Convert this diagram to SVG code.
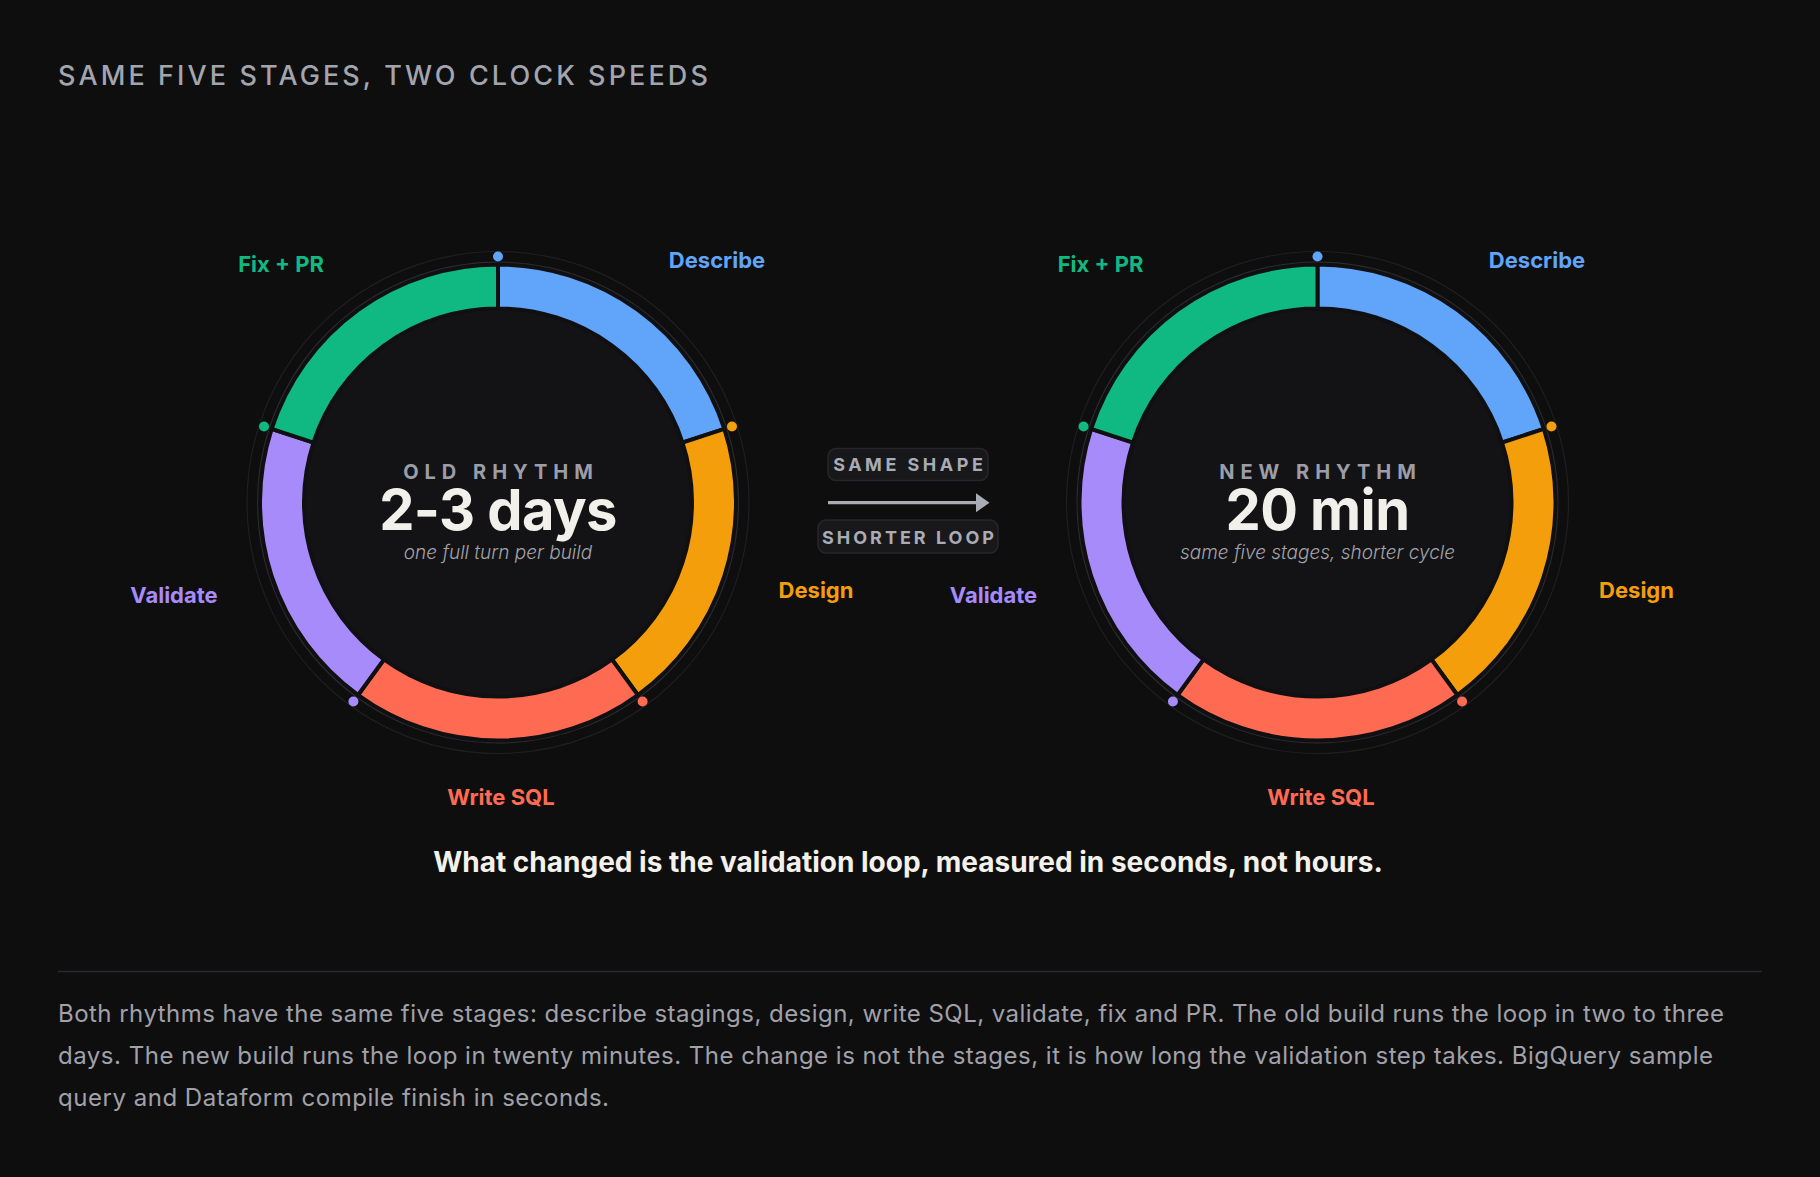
<svg xmlns="http://www.w3.org/2000/svg" xmlns:xlink="http://www.w3.org/1999/xlink" width="1820" height="1177" viewBox="0 0 1820 1177">
<defs>
<style>
.bg{fill:#0e0e0f}
.title{font-family:Inter,"Liberation Sans",sans-serif;font-size:27px;font-weight:500;letter-spacing:3.1px;fill:#a3a5ae}
.lbl{font-family:Inter,"Liberation Sans",sans-serif;font-size:22px;font-weight:700;text-anchor:middle}
.kick{font-family:Inter,"Liberation Sans",sans-serif;font-size:20px;font-weight:700;letter-spacing:6px;fill:#9b9ea8;text-anchor:middle}
.big{font-family:Inter,"Liberation Sans",sans-serif;font-size:56px;font-weight:700;letter-spacing:-0.6px;fill:#f2f0ea;text-anchor:middle}
.sub{font-family:Inter,"Liberation Sans",sans-serif;font-size:19px;font-style:italic;font-weight:300;fill:#a3a3ab;text-anchor:middle}
.pill{fill:#18181a;stroke:#27272b;stroke-width:1.5}
.pilltxt{font-family:Inter,"Liberation Sans",sans-serif;font-size:18px;font-weight:700;fill:#a9abb5;text-anchor:middle}
.head{font-family:Inter,"Liberation Sans",sans-serif;font-size:28px;font-weight:700;fill:#f3f1ea;text-anchor:middle}
.para{font-family:Inter,"Liberation Sans",sans-serif;font-size:24px;font-weight:400;fill:#a1a1a9}
.seg{stroke:#101012;stroke-width:4;stroke-linejoin:miter}
.c-blue{fill:#60a5fa}.c-orange{fill:#f59e0b}.c-red{fill:#ff6b52}.c-purple{fill:#a78bfa}.c-green{fill:#10b981}
</style>
<g id="ringbase">
<circle r="251" fill="none" stroke="#1f1f22" stroke-width="1.2"/>
<circle r="240" fill="#0b0b0c" stroke="#2c2c30" stroke-width="2"/>
<circle r="196" fill="#131315"/>
</g>
<g id="ringsegs">
<path class="seg c-blue" d="M0,-238 A238,238 0 0 1 226.35,-73.55 L184.5,-59.95 A194,194 0 0 0 0,-194 Z"/>
<path class="seg c-orange" d="M226.35,-73.55 A238,238 0 0 1 139.89,192.55 L114.03,156.95 A194,194 0 0 0 184.5,-59.95 Z"/>
<path class="seg c-red" d="M139.89,192.55 A238,238 0 0 1 -139.89,192.55 L-114.03,156.95 A194,194 0 0 0 114.03,156.95 Z"/>
<path class="seg c-purple" d="M-139.89,192.55 A238,238 0 0 1 -226.35,-73.55 L-184.5,-59.95 A194,194 0 0 0 -114.03,156.95 Z"/>
<path class="seg c-green" d="M-226.35,-73.55 A238,238 0 0 1 0,-238 L0,-194 A194,194 0 0 0 -184.5,-59.95 Z"/>
<circle class="c-blue" cx="0" cy="-246" r="5"/>
<circle class="c-orange" cx="233.96" cy="-76.02" r="5"/>
<circle class="c-red" cx="144.6" cy="199.02" r="5"/>
<circle class="c-purple" cx="-144.6" cy="199.02" r="5"/>
<circle class="c-green" cx="-233.96" cy="-76.02" r="5"/>
</g>
</defs>
<rect class="bg" x="0" y="0" width="1820" height="1177"/>
<text class="title" x="58" y="85">SAME FIVE STAGES, TWO CLOCK SPEEDS</text>

<g id="old-rhythm">
<g transform="translate(498,502.5)">
<use xlink:href="#ringbase"/>
<use xlink:href="#ringsegs"/>
</g>
<text class="kick" x="501" y="478.5">OLD RHYTHM</text>
<text class="big" x="498" y="530">2-3 days</text>
<text class="sub" x="498" y="559">one full turn per build</text>
</g>
<g id="old-labels">
<text class="lbl c-green" x="281" y="272">Fix + PR</text>
<text class="lbl c-blue" x="717" y="268">Describe</text>
<text class="lbl c-orange" x="816" y="598">Design</text>
<text class="lbl c-red" x="501" y="805">Write SQL</text>
<text class="lbl c-purple" x="174" y="603">Validate</text>
</g>

<g id="new-rhythm">
<g transform="translate(1317.5,502.5)">
<use xlink:href="#ringbase"/>
<use xlink:href="#ringsegs"/>
</g>
<text class="kick" x="1320.5" y="478.5">NEW RHYTHM</text>
<text class="big" x="1317.5" y="530">20 min</text>
<text class="sub" x="1317.5" y="559">same five stages, shorter cycle</text>
</g>
<g id="new-labels">
<text class="lbl c-green" x="1100.5" y="272">Fix + PR</text>
<text class="lbl c-blue" x="1537" y="268">Describe</text>
<text class="lbl c-orange" x="1636.5" y="598">Design</text>
<text class="lbl c-red" x="1321" y="805">Write SQL</text>
<text class="lbl c-purple" x="993.5" y="603">Validate</text>
</g>

<g id="same-shape">
<rect class="pill" x="828" y="448.5" width="160" height="32" rx="8"/>
<text class="pilltxt" x="909.75" y="471" letter-spacing="3.5">SAME SHAPE</text>
</g>
<g id="connectors">
<line x1="828" y1="502.7" x2="977" y2="502.7" stroke="#a9abb6" stroke-width="3.3"/>
<polygon points="976,493.2 989.5,502.7 976,512.2" fill="#a9abb6"/>
</g>
<g id="shorter-loop">
<rect class="pill" x="818" y="520" width="180" height="33" rx="8"/>
<text class="pilltxt" x="909.5" y="543.5" letter-spacing="3">SHORTER LOOP</text>
</g>

<text class="head" x="908" y="872">What changed is the validation loop, measured in seconds, not hours.</text>
<line x1="58" y1="971.5" x2="1762" y2="971.5" stroke="#2a2a2d" stroke-width="1.5"/>
<text class="para" x="58" y="1022" textLength="1666" lengthAdjust="spacing">Both rhythms have the same five stages: describe stagings, design, write SQL, validate, fix and PR. The old build runs the loop in two to three</text>
<text class="para" x="58" y="1064" textLength="1655" lengthAdjust="spacing">days. The new build runs the loop in twenty minutes. The change is not the stages, it is how long the validation step takes. BigQuery sample</text>
<text class="para" x="58" y="1106" textLength="551" lengthAdjust="spacing">query and Dataform compile finish in seconds.</text>
</svg>
